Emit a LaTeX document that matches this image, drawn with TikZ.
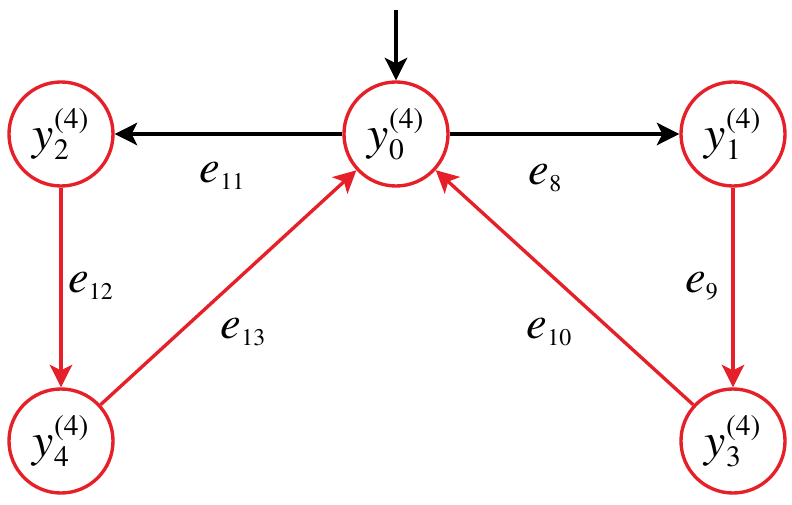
\RequirePackage{fix-cm}
\documentclass[tikz,border=0pt]{standalone}
\usepackage[T1,TU]{fontenc}
\usepackage{amsmath}
\usetikzlibrary{arrows.meta, positioning}
\definecolor{myred}{RGB}{230,32,40}
\DeclareMathSizes{34}{34}{21}{15}
\DeclareMathSizes{33}{33}{17}{12}
\newcommand{\tmit}{\usefont{T1}{ptm}{m}{it}}
\newcommand{\tmup}{\usefont{T1}{ptm}{m}{n}}
\newcommand{\yst}[1]{$\text{\tmit y}_{\text{\tmup #1}}^{\text{\tmup (4)}}$}
\newcommand{\elab}[1]{$\text{\tmit e}_{\text{\tmup #1}}$}

\begin{document}
\begin{tikzpicture}[>={Stealth[length=16pt,width=16pt,inset=4pt]}, x=0.025cm, y=-0.025cm,
  state/.style={circle, draw=myred, line width=2.4pt, minimum size=2.6cm, inner sep=0pt,
    font=\fontsize{34}{36}\selectfont},
  lab/.style={black, font=\fontsize{33}{35}\selectfont},
  link/.style={->, line width=2.4pt}]
  \useasboundingbox (0,0) rectangle (792,505);
  % States
  \node[state] (y0) at (396,134) {\yst{0}};
  \node[state] (y1) at (733,134) {\yst{1}};
  \node[state] (y2) at (61,134) {\yst{2}};
  \node[state] (y3) at (733,441) {\yst{3}};
  \node[state] (y4) at (61,441) {\yst{4}};
  % Input
  \coordinate (in) at (396,10);
  \draw[link] (in) -- (y0);
  % Black links
  \draw[link] (y0) -- (y2) node[lab, midway, shift={(-6,42)}] {\elab{11}};
  \draw[link] (y0) -- (y1) node[lab, midway, shift={(-19,44)}] {\elab{8}};
  % Red links
  \draw[link, myred] (y2) -- (y4) node[lab, midway, shift={(30,-2)}] {\elab{12}};
  \draw[link, myred] (y1) -- (y3) node[lab, midway, shift={(-31,-1)}] {\elab{9}};
  \draw[link, myred] (y4) -- (y0) node[lab, midway, shift={(15,45)}] {\elab{13}};
  \draw[link, myred] (y3) -- (y0) node[lab, midway, shift={(-15,45)}] {\elab{10}};
\end{tikzpicture}
\end{document}
